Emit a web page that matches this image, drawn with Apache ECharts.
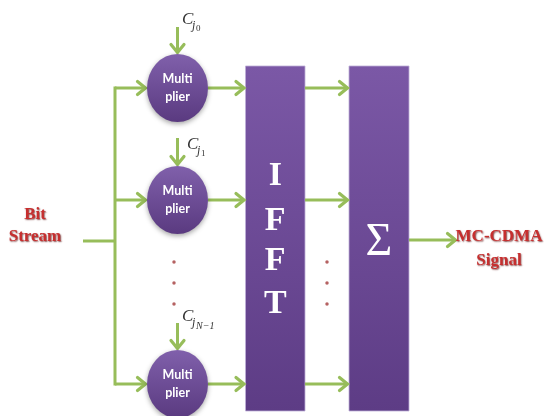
<!DOCTYPE html>
<html><head><meta charset="utf-8">
<script src="https://cdn.jsdelivr.net/npm/echarts@6/dist/echarts.min.js"></script>
<style>html,body{margin:0;padding:0;background:#fff}#c{width:544px;height:416px}</style>
</head><body><div id="c"></div>
<script>
// ---- content ----
const inputLabel = 'Bit\nStream';
const outputLabel = 'MC-CDMA\nSignal';
const multiplierLabel = 'Multi\nplier';
const codeSubscripts = ['0', '1', 'N\u22121'];
const ifftLetters = ['I', 'F', 'F', 'T'];
const sumLabel = '\u03A3';

// ---- diagram layout (diagram units, mapped by hidden value axes) ----
const branchRows = [88, 200, 384];
const multiplierX = [177.5, 177.5, 177.5];
const codeLabelAnchors = [[182, 20], [187, 145], [182, 317]];
const codeArrowTops = [27, 138, 323];
const ellipsisDotsLeft = [[174, 262], [174, 283], [174, 304]];
const ellipsisDotsMid = [[327, 262], [327, 283], [327, 304]];
const blockRects = [[245.5, 66, 305, 411], [349, 66, 409, 411]];
const ifftLetterRows = [176, 221, 261, 304];
const sumRow = 243;
const inputPos = [35, 226];
const outputPos = [499, 249];
const busX = 115;
const inputRow = 241;
const outputRow = 240;

const GREEN = '#97bd5a';
const RED = '#c62f2f';

// build segment list [x1, y1, x2, y2, head]
const segments = [];
segments.push([83, inputRow, busX, inputRow, 0]);
segments.push([busX, branchRows[0] - 1.5, busX, branchRows[2] + 1.5, 0]);
branchRows.forEach((r, i) => {
  segments.push([busX, r, multiplierX[i] - 30.5, r, 1]);
  segments.push([multiplierX[i], codeArrowTops[i], multiplierX[i], r - 34, 1]);
  segments.push([multiplierX[i] + 30.5, r, blockRects[0][0], r, 1]);
  segments.push([blockRects[0][2], r, blockRects[1][0], r, 1]);
});
segments.push([blockRects[1][2], outputRow, 457, outputRow, 1]);

const chart = echarts.init(document.getElementById('c'), null, {renderer: 'canvas'});

const purpleGrad = () => new echarts.graphic.LinearGradient(0, 0, 0, 1, [
  {offset: 0, color: '#7b58a6'}, {offset: 1, color: '#5d3c85'}
]);

chart.setOption({
  animation: false,
  backgroundColor: '#ffffff',
  grid: {left: 0, right: 0, top: 0, bottom: 0},
  xAxis: {type: 'value', min: 0, max: 544, show: false},
  yAxis: {type: 'value', min: 0, max: 416, inverse: true, show: false},
  series: [
    {
      type: 'custom', name: 'blocks', z: 2,
      data: blockRects,
      renderItem: (params, api) => {
        const p1 = api.coord([api.value(0), api.value(1)]);
        const p2 = api.coord([api.value(2), api.value(3)]);
        return {
          type: 'rect',
          shape: {x: p1[0], y: p1[1], width: p2[0] - p1[0], height: p2[1] - p1[1]},
          style: {fill: purpleGrad(), stroke: 'rgba(190,175,215,0.8)', lineWidth: 1}
        };
      }
    },
    {
      type: 'custom', name: 'arrows', z: 3,
      data: segments,
      renderItem: (params, api) => {
        const p1 = api.coord([api.value(0), api.value(1)]);
        const p2 = api.coord([api.value(2), api.value(3)]);
        const head = api.value(4);
        const dx = p2[0] - p1[0], dy = p2[1] - p1[1];
        const L = Math.hypot(dx, dy), ux = dx / L, uy = dy / L;
        const end = head ? [p2[0] - ux * 2, p2[1] - uy * 2] : p2;
        const children = [{
          type: 'line',
          shape: {x1: p1[0], y1: p1[1], x2: end[0], y2: end[1]},
          style: {stroke: GREEN, lineWidth: 3}
        }];
        if (head) {
          const tip = [p2[0] - ux * 1.5, p2[1] - uy * 1.5];
          const back = 8, half = 6.5;
          const a = [tip[0] - ux * back - uy * half, tip[1] - uy * back + ux * half];
          const b = [tip[0] - ux * back + uy * half, tip[1] - uy * back - ux * half];
          children.push({
            type: 'polyline',
            shape: {points: [a, tip, b]},
            style: {stroke: GREEN, lineWidth: 3.2, fill: null, lineJoin: 'miter', lineCap: 'round'}
          });
        }
        return {type: 'group', children};
      }
    },
    {
      type: 'scatter', name: 'multipliers', z: 4,
      symbol: 'circle', symbolSize: [61, 68],
      data: branchRows.map((r, i) => [multiplierX[i], r]),
      itemStyle: {
        color: new echarts.graphic.LinearGradient(0, 0, 0, 1, [
          {offset: 0, color: '#8060ab'}, {offset: 1, color: '#5a3a80'}
        ]),
        shadowBlur: 5, shadowColor: 'rgba(0,0,0,0.35)', shadowOffsetY: 2, opacity: 1
      },
      label: {
        show: true, position: 'inside', formatter: multiplierLabel,
        color: '#ffffff', fontFamily: 'Lato', fontWeight: 'bold', fontSize: 12.5, lineHeight: 18
      },
      emphasis: {disabled: true}
    },
    {
      type: 'scatter', name: 'dots', z: 4,
      symbol: 'circle', symbolSize: 3.5,
      data: ellipsisDotsLeft.concat(ellipsisDotsMid),
      itemStyle: {color: '#a33a3a'},
      emphasis: {disabled: true}
    },
    {
      type: 'custom', name: 'blockText', z: 5,
      data: ifftLetters.map((t, i) => [(blockRects[0][0] + blockRects[0][2]) / 2, ifftLetterRows[i], i])
        .concat([[(blockRects[1][0] + blockRects[1][2]) / 2, sumRow, -1]]),
      renderItem: (params, api) => {
        const p = api.coord([api.value(0), api.value(1)]);
        const idx = api.value(2);
        const isSum = idx < 0;
        return {
          type: 'text', x: p[0], y: p[1],
          style: {
            text: isSum ? sumLabel : ifftLetters[idx],
            fill: '#ffffff', align: 'center', verticalAlign: 'middle',
            font: isSum ? 'normal 46px "Liberation Serif"' : 'bold 34px "Liberation Serif"'
          }
        };
      }
    },
    {
      type: 'custom', name: 'codes', z: 5,
      data: codeLabelAnchors.map((p, i) => [p[0], p[1], i]),
      renderItem: (params, api) => {
        const p = api.coord([api.value(0), api.value(1)]);
        const sub = codeSubscripts[api.value(2)];
        const col = '#333333';
        return {
          type: 'group', x: p[0], y: p[1],
          children: [
            {type: 'text', x: 0, y: 0, style: {text: 'C', fill: col, align: 'left', verticalAlign: 'middle', font: 'italic 17px "Liberation Serif"'}},
            {type: 'text', x: 10, y: 6, style: {text: 'j', fill: col, align: 'left', verticalAlign: 'middle', font: 'italic 12px "Liberation Serif"'}},
            {type: 'text', x: 14, y: 9, style: {text: sub, fill: col, align: 'left', verticalAlign: 'middle', font: (sub.length > 1 ? 'italic 10px' : 'normal 9px') + ' "Liberation Serif"'}}
          ]
        };
      }
    },
    {
      type: 'custom', name: 'io', z: 5,
      data: [[inputPos[0], inputPos[1], 0], [outputPos[0], outputPos[1], 1]],
      renderItem: (params, api) => {
        const p = api.coord([api.value(0), api.value(1)]);
        const isOut = api.value(2) === 1;
        return {
          type: 'text', x: p[0], y: p[1],
          style: {
            text: isOut ? outputLabel : inputLabel,
            fill: RED, align: 'center', verticalAlign: 'middle',
            font: 'bold 17px "Liberation Serif"', lineHeight: isOut ? 24 : 22,
            textShadowColor: 'rgba(90,10,10,0.7)', textShadowBlur: 1.5, textShadowOffsetX: 0.8, textShadowOffsetY: 0.8
          }
        };
      }
    }
  ]
});
</script></body></html>
